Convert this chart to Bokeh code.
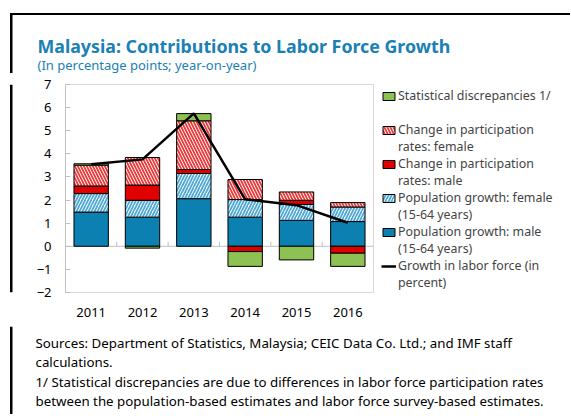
import numpy as np
from bokeh.plotting import figure
from bokeh.models import Range1d, FixedTicker, Legend, LegendItem, Span
from bokeh.core.properties import value
from bokeh.layouts import column, row
from bokeh.embed import file_html
from bokeh.resources import INLINE

# ---- data ----
years = ["2011", "2012", "2013", "2014", "2015", "2016"]
pop_male = [1.48, 1.26, 2.06, 1.26, 1.12, 1.07]
pop_female = [0.80, 0.73, 1.09, 0.76, 0.69, 0.63]
part_male = [0.33, 0.66, 0.17, -0.23, 0.18, -0.30]
part_female = [0.90, 1.19, 2.11, 0.87, 0.36, 0.19]
stat_disc = [0.06, -0.08, 0.31, -0.64, -0.59, -0.57]
labor_force = [3.55, 3.76, 5.75, 2.03, 1.78, 1.02]
y_ticks = [-2, -1, 0, 1, 2, 3, 4, 5, 6, 7]

title_text = "Malaysia: Contributions to Labor Force Growth"
subtitle_text = "(In percentage points; year-on-year)"
footer_lines = [
    "Sources: Department of Statistics, Malaysia; CEIC Data Co. Ltd.; and IMF staff",
    "calculations.",
    "1/ Statistical discrepancies are due to differences in labor force participation rates",
    "between the population-based estimates and labor force survey-based estimates.",
]

FONT = "Noto Sans"
BLUE_T = "#1a80b6"
TOTAL_W = 570
TOP_H, MAIN_H, BOT_H = 73, 253, 88
STRIP_W = 20
MAIN_W = 45 + 308 + 5
LEG_W = TOTAL_W - STRIP_W - MAIN_W


def text_fig(w, h, **kw):
    f = figure(width=w, height=h, x_range=Range1d(0, w), y_range=Range1d(h, 0),
               x_axis_type=None, y_axis_type=None, min_border=0,
               output_backend="svg", toolbar_location=None, outline_line_color=None, **kw)
    f.xgrid.visible = False
    f.ygrid.visible = False
    return f


# ---- top: border + title + subtitle ----
top = text_fig(TOTAL_W, TOP_H)
top.quad(left=[9.5], right=[TOTAL_W], top=[12.5], bottom=[14.5], fill_color="black", line_color=None)
top.quad(left=[9.5], right=[12], top=[12.5], bottom=[TOP_H], fill_color="black", line_color=None)
top.text(x=[37], y=[45.5], text=[title_text], text_font=value(FONT), text_font_style="bold",
         text_font_size="17.8px", text_color=BLUE_T, text_baseline="middle")
top.text(x=[37], y=[64.5], text=[subtitle_text], text_font=value(FONT),
         text_font_size="13px", text_color=BLUE_T, text_baseline="middle")

# ---- left strip: border ----
strip = text_fig(STRIP_W, MAIN_H)
strip.quad(left=[9.5], right=[12], top=[0], bottom=[MAIN_H], fill_color="black", line_color=None)

# ---- main chart ----
p = figure(width=MAIN_W, height=MAIN_H, x_range=Range1d(-0.5, len(years) - 0.5),
           y_range=Range1d(min(y_ticks), max(y_ticks)),
           min_border_left=45, min_border_right=5,
           min_border_top=11, min_border_bottom=MAIN_H - 11 - 208,
           output_backend="svg", toolbar_location=None, outline_line_color="#d9d9d9")
p.xgrid.visible = False
p.ygrid.visible = False

x = np.arange(len(years))

p.add_layout(Span(location=0, dimension="width", line_color="#bfbfbf", line_width=1, level="underlay"))
bounds = x[:-1] + 0.5
p.segment(x0=bounds, y0=np.zeros(len(bounds)), x1=bounds, y1=np.full(len(bounds), 0.2),
          line_color="#bfbfbf", line_width=1)

series = [
    ("pm", pop_male, dict(fill_color="#0b80b1")),
    ("pf", pop_female, dict(fill_color="white", hatch_pattern="/", hatch_color="#4ea8d4",
                            hatch_weight=1.8, hatch_scale=6)),
    ("rm", part_male, dict(fill_color="#e00000")),
    ("rf", part_female, dict(fill_color="white", hatch_pattern="\\", hatch_color="#e83a3a",
                             hatch_weight=1.8, hatch_scale=6)),
    ("sd", stat_disc, dict(fill_color="#8dc153")),
]
pos = np.zeros(len(years))
neg = np.zeros(len(years))
for key, vals, style in series:
    v = np.array(vals, dtype=float)
    bottom = np.where(v >= 0, pos, neg)
    top_v = bottom + v
    pos = np.where(v >= 0, top_v, pos)
    neg = np.where(v < 0, top_v, neg)
    p.vbar(x=x, bottom=bottom, top=top_v, width=0.67, line_color="black", line_width=1, **style)

LINE_STYLE = dict(line_color="black", line_width=2.5)
p.line(x=x, y=labor_force, **LINE_STYLE)

p.xaxis.ticker = FixedTicker(ticks=list(x))
p.xaxis.major_label_overrides = {int(i): y for i, y in zip(x, years)}
p.xaxis.axis_line_color = None
p.xaxis.major_tick_line_color = None
p.xaxis.minor_tick_line_color = None
p.xaxis.major_tick_out = 0
p.xaxis.major_tick_in = 0
p.xaxis.major_label_standoff = 15
p.yaxis.ticker = FixedTicker(ticks=y_ticks)
p.yaxis.axis_line_color = "#bfbfbf"
p.yaxis.major_tick_line_color = "#bfbfbf"
p.yaxis.major_tick_in = 5
p.yaxis.major_tick_out = 0
p.yaxis.minor_tick_line_color = None
p.yaxis.major_label_standoff = 14
for ax in (p.xaxis, p.yaxis):
    ax.major_label_text_font = FONT
    ax.major_label_text_font_size = "13px"
    ax.major_label_text_color = "#000000"

# ---- legend panel (hidden copies of the series supply the legend glyphs) ----
lg = text_fig(LEG_W, MAIN_H, min_border_top=6)
lr = {}
for key, vals, style in series:
    lr[key] = lg.vbar(x=x, top=vals, width=0.67, line_color="black", line_width=1,
                      visible=False, **style)
lr["lf"] = lg.line(x=x, y=labor_force, visible=False, **LINE_STYLE)
dummy = lg.scatter(x=x, y=labor_force, fill_alpha=0, line_alpha=0, visible=False)
items = [
    LegendItem(label="Statistical discrepancies 1/", renderers=[lr["sd"]]),
    LegendItem(label=" ", renderers=[dummy]),
    LegendItem(label="Change in participation", renderers=[lr["rf"]]),
    LegendItem(label="rates: female", renderers=[dummy]),
    LegendItem(label="Change in participation", renderers=[lr["rm"]]),
    LegendItem(label="rates: male", renderers=[dummy]),
    LegendItem(label="Population growth: female", renderers=[lr["pf"]]),
    LegendItem(label="(15-64 years)", renderers=[dummy]),
    LegendItem(label="Population growth: male", renderers=[lr["pm"]]),
    LegendItem(label="(15-64 years)", renderers=[dummy]),
    LegendItem(label="Growth in labor force (in", renderers=[lr["lf"]]),
    LegendItem(label="percent)", renderers=[dummy]),
]
legend = Legend(items=items, location="top_left", padding=0, margin=3, spacing=0,
                label_height=17, glyph_height=10, glyph_width=15, label_standoff=2,
                label_text_font=FONT, label_text_font_size="12.4px",
                border_line_color=None, background_fill_alpha=0,
                inactive_fill_alpha=0)
lg.add_layout(legend)

# ---- bottom: border + footer ----
bot = text_fig(TOTAL_W, BOT_H)
bot.quad(left=[9.5], right=[12], top=[0], bottom=[BOT_H], fill_color="black", line_color=None)
bot.text(x=[35] * len(footer_lines), y=[16, 35, 55, 74],
         text=footer_lines, text_font=value(FONT), text_font_size="13.3px",
         text_color="#000000", text_baseline="middle")

layout = column(top, row(strip, p, lg), bot)
open("out.html", "w").write(file_html(layout, INLINE))
